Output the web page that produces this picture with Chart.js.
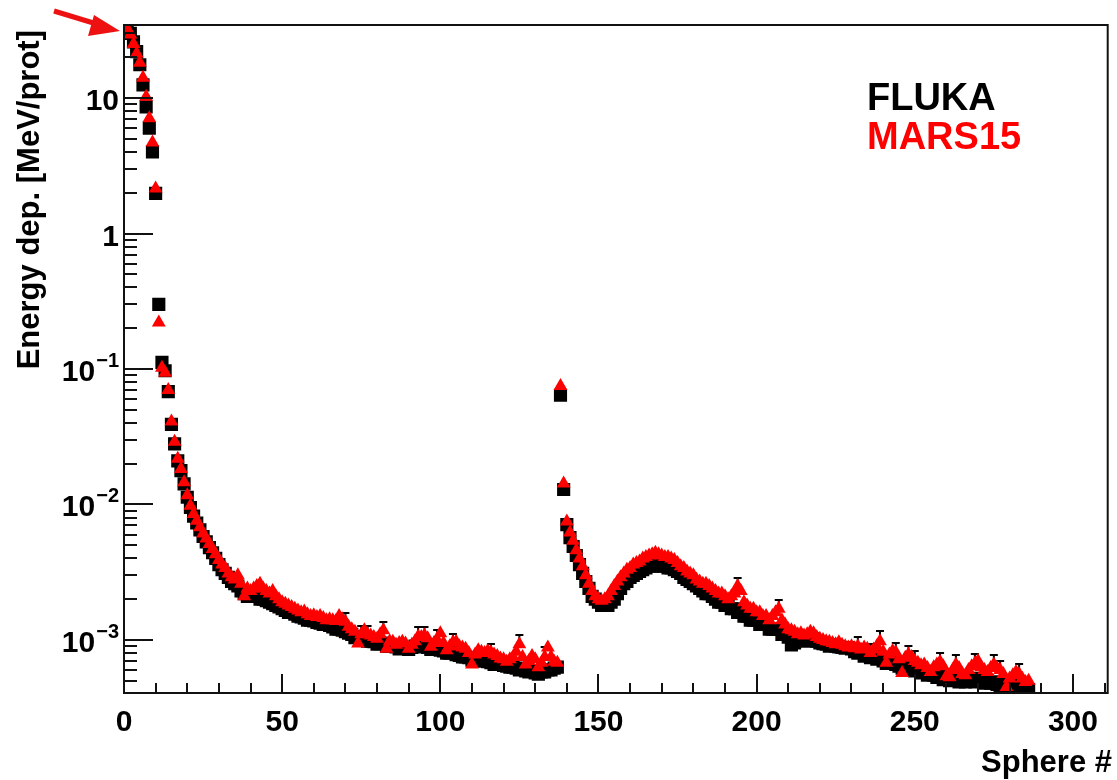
<!DOCTYPE html>
<html>
<head>
<meta charset="utf-8">
<title>Energy deposition per sphere</title>
<script src="https://cdn.jsdelivr.net/npm/chart.js@4.4.1/dist/chart.umd.min.js"></script>
<style>
  html, body { margin: 0; padding: 0; background: #fff; }
  #wrap { width: 1117px; height: 780px; position: relative; }
</style>
</head>
<body>
<div id="wrap"><canvas id="edepChart"></canvas></div>
<script>
// Energy deposition per sphere, FLUKA vs MARS15
const spheres = Array.from({ length: 286 }, (_, i) => i + 1);

const fluka = [
  33, 30, 26, 22, 17.6, 12.5, 8.6, 6.0, 4.0, 1.98,
  0.30, 0.112, 0.097, 0.068, 0.039, 0.028, 0.021, 0.0178, 0.0142, 0.0113,
  0.0095, 0.0082, 0.0073, 0.0065, 0.0058, 0.0053, 0.0048, 0.0044, 0.0040, 0.0036,
  0.0033, 0.0031, 0.0029, 0.0027, 0.0026, 0.0025, 0.0023, 0.0022, 0.0021, 0.0021,
  0.0021, 0.0021, 0.0020, 0.0020, 0.00195, 0.0019, 0.00185, 0.0018, 0.00175, 0.0017,
  0.00165, 0.0016, 0.0016, 0.00155, 0.0015, 0.00148, 0.00145, 0.0014, 0.0014, 0.00138,
  0.00135, 0.00133, 0.0013, 0.0013, 0.00128, 0.00125, 0.0012, 0.0012, 0.00118, 0.00115,
  0.00112, 0.0011, 0.00104, 0.00105, 0.00106, 0.00102, 0.00098, 0.00098, 0.00097, 0.00093,
  0.00094, 0.00095, 0.0009, 0.0009, 0.00091, 0.00089, 0.00086, 0.00087, 0.00088, 0.00085,
  0.00088, 0.0009, 0.00092, 0.00091, 0.00089, 0.00088, 0.00085, 0.00086, 0.00087, 0.00084,
  0.00083, 0.0008, 0.0008, 0.00081, 0.00078, 0.00077, 0.00075, 0.00075, 0.00074, 0.00071,
  0.00072, 0.00073, 0.0007, 0.0007, 0.00069, 0.00068, 0.00066, 0.00066, 0.00067, 0.00065,
  0.00064, 0.00063, 0.00063, 0.00062, 0.0006, 0.00061, 0.00059, 0.00058, 0.00059, 0.00057,
  0.00056, 0.00058, 0.00058, 0.0006, 0.0006, 0.00062, 0.00063,
  0.064, 0.0129, 0.0071, 0.0057, 0.0049, 0.0042, 0.0036, 0.0031, 0.0027, 0.0024, 0.0021, 0.002, 0.0019,
  0.0018, 0.0018, 0.0018, 0.0019, 0.002, 0.0022, 0.0024, 0.0026, 0.0027, 0.0029,
  0.003, 0.0031, 0.0032, 0.0033, 0.0034, 0.0035, 0.0035, 0.0036, 0.0036, 0.0035,
  0.0035, 0.0034, 0.0034, 0.0033, 0.0032, 0.0031, 0.0029, 0.0028, 0.0027, 0.0026,
  0.0025, 0.0024, 0.0023, 0.0022, 0.0022, 0.0021, 0.002, 0.0019, 0.0019, 0.0018,
  0.0018, 0.0017, 0.0017, 0.0016, 0.0016, 0.0015, 0.0015, 0.0014, 0.0014, 0.0014,
  0.0013, 0.0013, 0.0013, 0.0012, 0.0012, 0.0012, 0.0012, 0.0011, 0.0011, 0.00105,
  0.00092, 0.00095, 0.001, 0.00102, 0.001, 0.00098, 0.001, 0.00102, 0.00098, 0.00095,
  0.00094, 0.00093, 0.0009, 0.00092, 0.0009, 0.00089, 0.00088, 0.00087, 0.00088, 0.00086,
  0.00082, 0.0008, 0.00083, 0.00076, 0.00079, 0.00074, 0.00077, 0.00072, 0.00074, 0.0007,
  0.00067, 0.00071, 0.00069, 0.00066, 0.00064, 0.00062, 0.00066, 0.00062, 0.0006, 0.00059,
  0.0006, 0.00057, 0.00058, 0.00055, 0.00057, 0.00055, 0.00053, 0.00055, 0.00051, 0.00053,
  0.0005, 0.00052, 0.00053, 0.00049, 0.00051, 0.00049, 0.0005, 0.00051, 0.00049, 0.00052,
  0.0005, 0.00048, 0.0005, 0.00048, 0.00049, 0.00047, 0.00046, 0.00048, 0.00044, 0.00043,
  0.00046, 0.00045, 0.00044, 0.00047, 0.00045, 0.00043
];

const mars = [
  32.5, 29.5, 25, 21.3, 18.2, 14.1, 10.2, 7.1, 4.7, 2.15,
  0.22, 0.102, 0.094, 0.07, 0.041, 0.029, 0.0218, 0.0183, 0.0146, 0.0117,
  0.0098, 0.0085, 0.0076, 0.0068, 0.0061, 0.0056, 0.0051, 0.0047, 0.0043, 0.0039,
  0.0036, 0.0034, 0.0031, 0.0029, 0.0028, 0.003, 0.0026, 0.0021, 0.0024, 0.0023,
  0.0024, 0.0025, 0.0026, 0.0024, 0.0023, 0.0022, 0.0023, 0.0021, 0.002, 0.0019,
  0.00185, 0.0018, 0.00175, 0.0017, 0.00165, 0.0016, 0.00162, 0.00155, 0.0015, 0.00152,
  0.00148, 0.0015, 0.00145, 0.0014, 0.00142, 0.0014, 0.00138, 0.0015, 0.00142, 0.00136,
  0.00125, 0.0012, 0.00115, 0.00094, 0.0011, 0.00118, 0.0011, 0.00108, 0.00105, 0.00102,
  0.0011, 0.00118, 0.00086, 0.00098, 0.00097, 0.00092, 0.00095, 0.00097, 0.00094, 0.00086,
  0.00092, 0.00098, 0.00106, 0.00105, 0.00108, 0.00103, 0.00089, 0.00095, 0.001, 0.00112,
  0.00095, 0.00084, 0.0009, 0.00096, 0.00097, 0.0009, 0.00088, 0.00086, 0.0008, 0.00066,
  0.00078, 0.00084, 0.00082, 0.0008, 0.00083, 0.00081, 0.00078, 0.00076, 0.00073, 0.00072,
  0.00069, 0.00072, 0.00075, 0.00082, 0.00093, 0.00075, 0.00066, 0.0007, 0.00076, 0.00072,
  0.00063, 0.00068, 0.00075, 0.00088, 0.00075, 0.00069, 0.00068,
  0.075, 0.0143, 0.0075, 0.0062, 0.0054, 0.0046, 0.004, 0.0035, 0.003, 0.0026, 0.0023, 0.0021, 0.002,
  0.00195, 0.002, 0.0021, 0.0023, 0.0025, 0.0027, 0.0029, 0.0031, 0.0033, 0.0034,
  0.0036, 0.0037, 0.0038, 0.004, 0.0041, 0.0042, 0.0043, 0.0044, 0.0043, 0.0042,
  0.0041, 0.0041, 0.004, 0.0039, 0.0037, 0.0035, 0.0034, 0.0032, 0.0031, 0.003,
  0.0028, 0.0027, 0.0026, 0.0026, 0.0025, 0.0024, 0.0023, 0.0022, 0.0022, 0.0021,
  0.002, 0.0021, 0.0022, 0.0025, 0.0023, 0.0019, 0.0018, 0.0017, 0.0017, 0.0016,
  0.0016, 0.0015, 0.0015, 0.0014, 0.0015, 0.0016, 0.0017, 0.0014, 0.0013, 0.0012,
  0.00118, 0.00115, 0.0011, 0.00112, 0.00108, 0.0011, 0.00115, 0.00112, 0.00105, 0.00102,
  0.001, 0.00098, 0.00097, 0.00095, 0.00093, 0.00096, 0.00092, 0.0009, 0.00088, 0.0009,
  0.00087, 0.0009, 0.00085, 0.00088, 0.00086, 0.0008, 0.00085, 0.0009, 0.00098, 0.00082,
  0.00068, 0.00078, 0.00083, 0.00081, 0.00072, 0.00057, 0.00074, 0.00078, 0.00075, 0.0007,
  0.00068, 0.00065, 0.00066, 0.00062, 0.00058, 0.00063, 0.00066, 0.00069, 0.00064, 0.00054,
  0.00053, 0.0006, 0.00066, 0.00062, 0.00056, 0.00055, 0.0006, 0.00064, 0.00067, 0.0007,
  0.00063, 0.0006, 0.00058, 0.00062, 0.00066, 0.00062, 0.0006, 0.00056, 0.00045, 0.00052,
  0.00055, 0.00058, 0.00056, 0.00052, 0.00049, 0.0005
];

// upper error bars that stick out above the MARS15 markers
const errSpheres = [70, 75, 77, 82, 93, 95, 99, 104, 116, 125, 133, 194, 207, 232, 236, 239, 244, 248, 250, 258, 263, 269, 275, 277, 283];
const errRel = [0.16, 0.15, 0.16, 0.15, 0.17, 0.16, 0.18, 0.16, 0.15, 0.17, 0.18, 0.15, 0.16, 0.17, 0.16, 0.18, 0.17, 0.16, 0.18, 0.17, 0.18, 0.17, 0.18, 0.17, 0.18];

const xTicks = [0, 50, 100, 150, 200, 250, 300];
const yTicks = [10, 1, 0.1, 0.01, 0.001];
const yTickBase = ["10", "1", "10", "10", "10"];
const yTickExp = ["", "", "\u22121", "\u22122", "\u22123"];

const X_MIN = 0, X_MAX = 311;
const Y_MIN = 4.06e-4, Y_MAX = 34.6;

const FONT = '"Liberation Sans", Arial, Helvetica, sans-serif';

// error caps, drawn under the markers
const errorCaps = {
  id: "errorCaps",
  beforeDatasetsDraw(chart) {
    const { ctx } = chart;
    const xs = chart.scales.x;
    const ys = chart.scales.y;
    ctx.save();
    ctx.strokeStyle = "#000";
    ctx.lineWidth = 2;
    errSpheres.forEach((s, i) => {
      const v = mars[s - 1];
      const px = xs.getPixelForValue(s);
      const py = ys.getPixelForValue(v);
      const top = Math.round(ys.getPixelForValue(v * (1 + errRel[i])));
      ctx.beginPath();
      ctx.moveTo(px, py);
      ctx.lineTo(px, top);
      ctx.moveTo(px - 4, top);
      ctx.lineTo(px + 4, top);
      ctx.stroke();
    });
    ctx.restore();
  }
};

// ROOT-like frame: box, inward ticks, labels, titles, legend text, arrow
const rootFrame = {
  id: "rootFrame",
  afterDraw(chart) {
    const { ctx, chartArea: a } = chart;
    const xs = chart.scales.x;
    const ys = chart.scales.y;
    ctx.save();
    ctx.strokeStyle = "#111";
    ctx.lineWidth = 2;
    ctx.strokeRect(a.left, a.top, a.right - a.left, a.bottom - a.top);

    const seg = (x1, y1, x2, y2) => {
      ctx.beginPath();
      ctx.moveTo(x1, y1);
      ctx.lineTo(x2, y2);
      ctx.stroke();
    };

    // x ticks every 10, long every 50
    for (let v = 0; v <= X_MAX; v += 10) {
      const px = Math.round(xs.getPixelForValue(v));
      seg(px, a.bottom, px, a.bottom - (v % 50 === 0 ? 19 : 10));
    }
    // y ticks on the decades and 2..9 in between
    for (let e = -4; e <= 1; e++) {
      for (let m = 1; m <= 9; m++) {
        const v = m * Math.pow(10, e);
        if (v < Y_MIN || v > Y_MAX) continue;
        const py = Math.round(ys.getPixelForValue(v));
        seg(a.left, py, a.left + (m === 1 ? 29 : 13), py);
      }
    }

    // tick labels
    ctx.fillStyle = "#000";
    ctx.font = "bold 30px " + FONT;
    ctx.textAlign = "center";
    ctx.textBaseline = "alphabetic";
    xTicks.forEach((v) => {
      ctx.fillText(String(v), xs.getPixelForValue(v), a.bottom + 38);
    });

    const right = 119;
    yTicks.forEach((v, i) => {
      const py = ys.getPixelForValue(v);
      ctx.font = "bold 30px " + FONT;
      const w1 = ctx.measureText(yTickBase[i]).width;
      ctx.font = "bold 20px " + FONT;
      const w2 = yTickExp[i] ? ctx.measureText(yTickExp[i]).width + 1 : 0;
      const x0 = right - w1 - w2;
      ctx.textAlign = "left";
      ctx.font = "bold 30px " + FONT;
      ctx.fillText(yTickBase[i], x0, py + 12);
      if (yTickExp[i]) {
        ctx.font = "bold 20px " + FONT;
        ctx.fillText(yTickExp[i], x0 + w1 + 1, py - 2);
      }
    });

    // axis titles
    ctx.font = "bold 31px " + FONT;
    ctx.textAlign = "right";
    ctx.fillText("Sphere #", 1112, 772);
    ctx.save();
    ctx.translate(30, 30);
    ctx.rotate(-Math.PI / 2);
    ctx.textAlign = "right";
    ctx.textBaseline = "middle";
    ctx.fillText("Energy dep. [MeV/prot]", 0, 0);
    ctx.restore();

    // legend text
    ctx.font = "bold 38px " + FONT;
    ctx.textAlign = "left";
    ctx.fillStyle = "#000";
    ctx.fillText("FLUKA", 867, 110);
    ctx.fillStyle = "#ff0000";
    ctx.fillText("MARS15", 867, 149);

    // red arrow pointing at the first sphere
    ctx.strokeStyle = "#ee1111";
    ctx.fillStyle = "#ee1111";
    ctx.lineWidth = 5;
    seg(54, 11, 100, 25);
    ctx.beginPath();
    ctx.moveTo(120, 31);
    ctx.lineTo(94, 15);
    ctx.lineTo(88, 36);
    ctx.closePath();
    ctx.fill();
    ctx.restore();
  }
};

const ctx = document.getElementById("edepChart").getContext("2d");
new Chart(ctx, {
  type: "scatter",
  data: {
    datasets: [
      {
        label: "FLUKA",
        data: spheres.map((s, i) => ({ x: s, y: fluka[i] })),
        pointStyle: "rect",
        pointRadius: 9.3,
        pointBorderWidth: 0,
        backgroundColor: "#000000",
        borderColor: "#000000",
        order: 2
      },
      {
        label: "MARS15",
        data: spheres.map((s, i) => ({ x: s, y: mars[i] })),
        pointStyle: "triangle",
        pointRadius: 8,
        pointBorderWidth: 0,
        backgroundColor: "#ff0000",
        borderColor: "#ff0000",
        order: 1
      }
    ]
  },
  options: {
    responsive: true,
    maintainAspectRatio: false,
    animation: false,
    layout: { padding: { left: 124, top: 25, right: 6, bottom: 87 } },
    scales: {
      x: { type: "linear", min: X_MIN, max: X_MAX, display: false },
      y: { type: "logarithmic", min: Y_MIN, max: Y_MAX, display: false }
    },
    plugins: {
      legend: { display: false },
      tooltip: { enabled: false }
    }
  },
  plugins: [errorCaps, rootFrame]
});
</script>
</body>
</html>
